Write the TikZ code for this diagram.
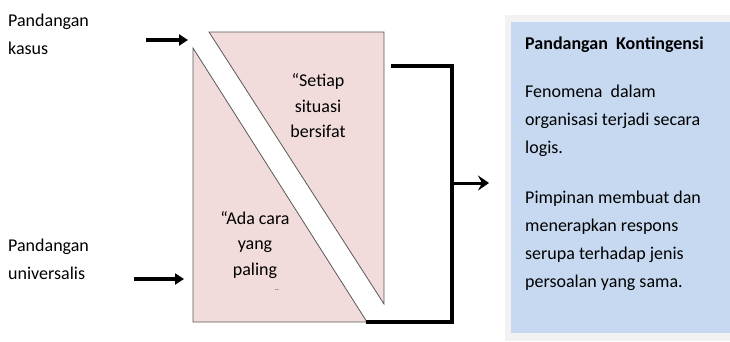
\documentclass[tikz,border=0pt]{standalone}
\usepackage{fontspec}
\setmainfont{Carlito}
\usetikzlibrary{positioning,arrows.meta,calc}
\definecolor{pinkfill}{RGB}{242,220,219}
\definecolor{bluefill}{RGB}{198,217,240}
\definecolor{edgegray}{RGB}{242,242,242}

\begin{document}
\begin{tikzpicture}[
    x=1pt, y=-1pt,
    txt/.style={font=\fontsize{18}{28}\selectfont, inner sep=0pt},
    tritxt/.style={font=\fontsize{18}{25.5}\selectfont, inner sep=0pt, align=center},
    tri/.style={draw=black!65, line width=0.8pt, fill=pinkfill},
    inarrow/.style={-{Triangle[length=9pt,width=11pt]}, line width=3.5pt},
    link/.style={line width=3.5pt, line join=miter},
    outarrow/.style={-{Stealth[length=11pt,width=15pt,inset=4pt]}, line width=3pt}
]
\useasboundingbox (0,0) rectangle (730,341);

% Left labels
\node[txt, align=left, anchor=north west] (kasus) at (8,14) {Pandangan\\kasus};
\node[txt, align=left, anchor=north west] (univ) at (8,239) {Pandangan\\universalis};

% Split box - two triangles
\draw[tri] (193,48) -- (193,322) -- (367,322) -- cycle;
\draw[tri] (209,32) -- (384,32) -- (384,304) -- cycle;

\node[tritxt] (setiap) at (318,106) {“Setiap\\situasi\\bersifat};
\node[tritxt] (adacara) at (255,245) {“Ada cara\\yang\\paling};
\node[font=\fontsize{7}{7}\selectfont, inner sep=0pt] (dots) at (277,290) {..};

% Input arrows
\coordinate (kasusstart) at (146,40);
\coordinate (kasustip) at (188,40);
\coordinate (univstart) at (134,279);
\coordinate (univtip) at (184,279);
\draw[inarrow] (kasusstart) -- (kasustip);
\draw[inarrow] (univstart) -- (univtip);

% Output connector
\coordinate (outtop) at (391,66);
\coordinate (outbot) at (366,322);
\coordinate (join) at (452,183);
\draw[link] (outtop) -| (join) |- (outbot);

% Contingency panel
\fill[edgegray] (505,15) rectangle (730,341);
\node[fill=bluefill, inner sep=0pt, minimum width=219pt, minimum height=311pt, anchor=north west] (panel) at (511,22) {};

\draw[outarrow] (join) -- ([xshift=-22pt]panel.west |- join);

\node[txt, font=\fontsize{18}{28}\selectfont\bfseries, below right=15pt and 14pt of panel.north west] (title) {Pandangan~~Kontingensi};
\node[txt, align=left, below=32pt of title.south west, anchor=north west] (para1) {Fenomena~ dalam\\organisasi terjadi secara\\logis.};
\node[txt, align=left, below=34pt of para1.south west, anchor=north west] (para2) {Pimpinan membuat dan\\menerapkan respons\\serupa terhadap jenis\\persoalan yang sama.};

\end{tikzpicture}
\end{document}
